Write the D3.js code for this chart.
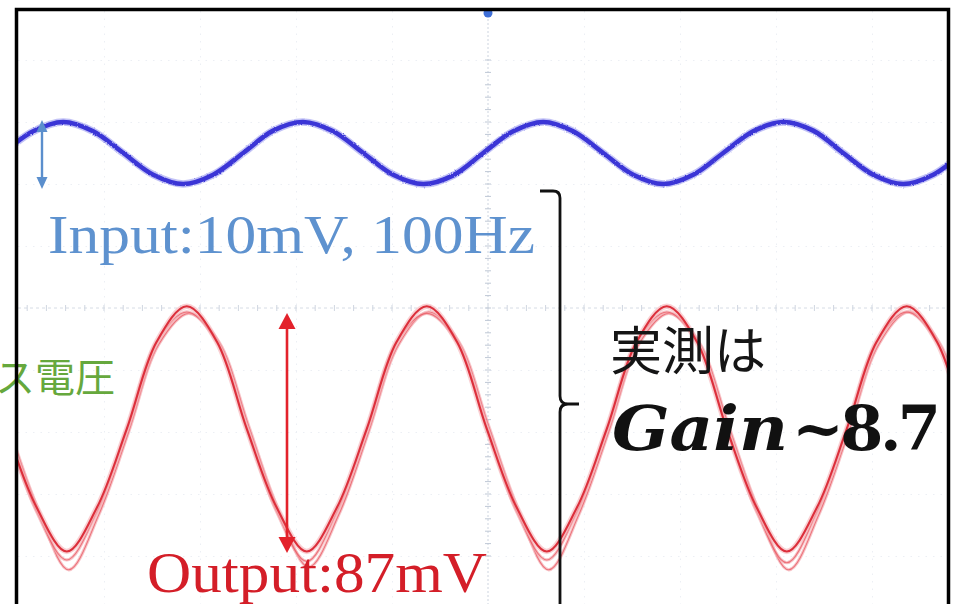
<!DOCTYPE html>
<html>
<head>
<meta charset="utf-8">
<script src="https://cdn.jsdelivr.net/npm/d3@7"></script>
<style>
  html, body { margin: 0; padding: 0; background: #fff; }
  svg { display: block; }
</style>
</head>
<body>
<svg id="scope" width="956" height="604"></svg>
<script>
// ---- captured waveforms (time in ms, voltage in mV) ----
const inTime = [-20.2,-18.95,-17.7,-16.45,-15.2,-13.95,-12.7,-11.45,-10.2,-8.95,-7.7,-6.45,-5.2,-3.95,-2.7,-1.45,
                -0.2,1.05,2.3,3.55,4.8,6.05,7.3,8.55,9.8,11.05,12.3,13.55,14.8,16.05,17.3,18.55,19.8,21.05];
const inVolt = [0,3.5,5,3.5,0,-3.5,-5,-3.5, 0,3.6,5,3.5,0,-3.5,-5,-3.6,
                0,3.5,5,3.5,0,-3.5,-5,-3.5, 0,3.5,5,3.6,0,-3.5,-5,-3.5, 0,3.5];

const outTime = [-20.05,-18.8,-17.55,-16.3,-15.05,-13.8,-12.55,-11.3,-10.05,-8.8,-7.55,-6.3,-5.05,-3.8,-2.55,-1.3,
                 -0.05,1.2,2.45,3.7,4.95,6.2,7.45,8.7,9.95,11.2,12.45,13.7,14.95,16.2,17.45,18.7,19.95,21.2];
const outVolt = [0,-28,-43.5,-28,0,31,43.5,31, 0,-28,-43.5,-28,0,31,43.5,31,
                 0,-28,-43.5,-28,0,31,43.5,31, 0,-28,-43.5,-28,0,31,43.5,31, 0,-28];
// persistence traces left on screen by earlier sweeps
const outVoltB = [0,-29.5,-46.5,-29.5,0,31,41.5,31, 0,-29.5,-47,-29.5,0,31,41,31,
                  0,-29.5,-46.5,-29.5,0,31,41.5,31, 0,-29.5,-47.5,-29.5,0,31,41.5,31, 0,-29.5];
const outVoltC = [1,-29,-50,-30.5,-1,30,41,31, 1,-29,-49,-30.5,-1,30,41.5,31,
                  1,-29,-50,-30.5,-1,30,41,31, 1,-29,-50,-30.5,-1,30,41.5,31, 1,-29];

// channel settings: [CH1 input, CH2 output]
const chNames    = ["CH1", "CH2"];
const chMvPerDiv = [10, 22];
const chPosDiv   = [2.5, -1.95];

// screen: 10 horizontal divisions of 4 ms, 8 vertical divisions
const timeDiv = 4;
const hDivs = [-4,-3,-2,-1,1,2,3,4];
const vDivs = [-4,-3,-2,-1,1,2,3,4];

const labelInput   = "Input:10mV, 100Hz";
const labelOutput  = "Output:87mV";
const labelMeas    = "実測は";
const labelGainVar = "Gain";
const labelGainVal = "~8.7";
const labelSide    = "ス電圧";

// ---- layout ----
const svg = d3.select("#scope");
const screen = { x0: 18, x1: 947, y0: 11, y1: 604 };

const x = d3.scaleLinear().domain([-5 * timeDiv, 5 * timeDiv]).range([8, 968]);
const divY = d3.scaleLinear().domain([-4, 4]).range([556, 60]);
const chY = chMvPerDiv.map((mv, i) =>
  d3.scaleLinear()
    .domain([(-4 - chPosDiv[i]) * mv, (4 - chPosDiv[i]) * mv])
    .range(divY.range()));

const defs = svg.append("defs");
defs.append("clipPath").attr("id", "screenClip")
  .append("rect")
  .attr("x", screen.x0).attr("y", screen.y0)
  .attr("width", screen.x1 - screen.x0).attr("height", screen.y1 - screen.y0);

// slight trace noise
const noise = defs.append("filter").attr("id", "traceNoise")
  .attr("x", "-2%").attr("y", "-10%").attr("width", "104%").attr("height", "120%");
noise.append("feTurbulence").attr("type", "fractalNoise")
  .attr("baseFrequency", "0.9").attr("numOctaves", 1).attr("seed", 3).attr("result", "n");
noise.append("feDisplacementMap").attr("in", "SourceGraphic").attr("in2", "n")
  .attr("scale", 2.4).attr("xChannelSelector", "R").attr("yChannelSelector", "G");

const scr = svg.append("g").attr("clip-path", "url(#screenClip)");

// ---- graticule ----
const gridX = scr.append("g")
  .attr("transform", `translate(0,${screen.y0})`)
  .call(d3.axisBottom(x).tickValues(hDivs.map(d => d * timeDiv))
        .tickSize(screen.y1 - screen.y0).tickFormat(""));
gridX.select(".domain").remove();
gridX.selectAll("line").attr("stroke", "#eceff4").attr("stroke-dasharray", "1.5,6");

const gridY = scr.append("g")
  .attr("transform", `translate(${screen.x0},0)`)
  .call(d3.axisRight(divY).tickValues(vDivs)
        .tickSize(screen.x1 - screen.x0).tickFormat(""));
gridY.select(".domain").remove();
gridY.selectAll("line").attr("stroke", "#eceff4").attr("stroke-dasharray", "1.5,6");

// centre cross with minor ticks
scr.append("line")
  .attr("x1", x(0)).attr("x2", x(0)).attr("y1", screen.y0).attr("y2", screen.y1)
  .attr("stroke", "#cdd4df").attr("stroke-width", 1).attr("stroke-dasharray", "2,2");
scr.append("line")
  .attr("x1", screen.x0).attr("x2", screen.x1).attr("y1", divY(0)).attr("y2", divY(0))
  .attr("stroke", "#d6dce5").attr("stroke-width", 1).attr("stroke-dasharray", "3,3");

const minorV = d3.range(-4, 4.01, 0.2);
scr.append("g").selectAll("line").data(minorV).join("line")
  .attr("x1", x(0) - 3).attr("x2", x(0) + 3)
  .attr("y1", d => divY(d)).attr("y2", d => divY(d))
  .attr("stroke", "#bfc8d5").attr("stroke-width", 1);
const minorH = d3.range(-20, 20.01, 0.8);
scr.append("g").selectAll("line").data(minorH).join("line")
  .attr("x1", d => x(d)).attr("x2", d => x(d))
  .attr("y1", divY(0) - 3).attr("y2", divY(0) + 3)
  .attr("stroke", "#cfd6e0").attr("stroke-width", 1);

// ---- waveforms ----
const line = (ys) => d3.line()
  .x(d => x(d[0]))
  .y(d => ys(d[1]))
  .curve(d3.curveCatmullRom.alpha(0.5));

const inData = d3.zip(inTime, inVolt);
const outData = d3.zip(outTime, outVolt);
const outDataB = d3.zip(outTime, outVoltB);
const outDataC = d3.zip(outTime.map(t => t + 0.08), outVoltC);

const traces = scr.append("g");

// CH2 output (persistence traces first)
[outDataC, outDataB].forEach(dat => {
  traces.append("path").datum(dat).attr("d", line(chY[1]))
    .attr("fill", "none").attr("stroke", "#f3a5ab").attr("stroke-width", 3.2)
    .attr("stroke-opacity", 0.65);
  traces.append("path").datum(dat).attr("d", line(chY[1]))
    .attr("fill", "none").attr("stroke", "#e8505a").attr("stroke-width", 1.1)
    .attr("stroke-opacity", 0.7);
});
traces.append("path").datum(outData).attr("d", line(chY[1]))
  .attr("fill", "none").attr("stroke", "#f5b3b8").attr("stroke-width", 5.5)
  .attr("stroke-opacity", 0.6);
traces.append("path").datum(outData).attr("d", line(chY[1]))
  .attr("fill", "none").attr("stroke", "#dc2f3b").attr("stroke-width", 2.1);

// CH1 input
traces.append("path").datum(inData).attr("d", line(chY[0]))
  .attr("fill", "none").attr("stroke", "#8585ee").attr("stroke-width", 7.5)
  .attr("stroke-opacity", 0.5).attr("filter", "url(#traceNoise)");
traces.append("path").datum(inData).attr("d", line(chY[0]))
  .attr("fill", "none").attr("stroke", "#3a35d6").attr("stroke-width", 4.6)
  .attr("filter", "url(#traceNoise)");

// trigger position marker
svg.append("circle").attr("cx", x(0)).attr("cy", screen.y0 + 2).attr("r", 4.5)
  .attr("fill", "#3e6fd8");

// ---- annotations ----
function doubleArrow(g, xPos, yTop, yBot, color, headW, headL, width) {
  g.append("line").attr("x1", xPos).attr("x2", xPos)
    .attr("y1", yTop + headL - 1).attr("y2", yBot - headL + 1)
    .attr("stroke", color).attr("stroke-width", width);
  g.append("path")
    .attr("d", `M${xPos},${yTop} L${xPos - headW / 2},${yTop + headL} L${xPos + headW / 2},${yTop + headL} Z`)
    .attr("fill", color);
  g.append("path")
    .attr("d", `M${xPos},${yBot} L${xPos - headW / 2},${yBot - headL} L${xPos + headW / 2},${yBot - headL} Z`)
    .attr("fill", color);
}
const ann = svg.append("g");
doubleArrow(ann, 42, 120, 189, "#5b8fcd", 11, 12, 2.4);
doubleArrow(ann, 287, 313, 553, "#e3222b", 17, 16, 2.6);

// brace between the two traces
ann.append("path")
  .attr("d", "M540,191 L553,191 Q560,191 560,198 L560,396 Q560,404 568,404 L579,404 M568,404 Q560,404 560,412 L560,610")
  .attr("fill", "none").attr("stroke", "#111").attr("stroke-width", 2.8);

// labels
const serif = "'Liberation Serif', 'Times New Roman', serif";
const cjk = "'Noto Sans CJK JP', 'Noto Sans', sans-serif";

ann.append("text")
  .attr("x", 48).attr("y", 253)
  .attr("font-family", serif).attr("font-size", 55)
  .attr("fill", "#5e92cf")
  .attr("textLength", 487).attr("lengthAdjust", "spacingAndGlyphs")
  .text(labelInput);

ann.append("text")
  .attr("x", 147).attr("y", 592)
  .attr("font-family", serif).attr("font-size", 56)
  .attr("fill", "#d41e28")
  .attr("textLength", 340).attr("lengthAdjust", "spacingAndGlyphs")
  .text(labelOutput);

ann.append("text")
  .attr("x", 610).attr("y", 370)
  .attr("font-family", cjk).attr("font-size", 52)
  .attr("fill", "#151515")
  .text(labelMeas);

// measured gain: italic variable name, upright value
const gainFont = "'DejaVu Serif', serif";
ann.append("text")
  .attr("x", 612).attr("y", 450)
  .attr("font-family", gainFont).attr("font-size", 62)
  .attr("font-weight", "bold").attr("font-style", "italic").attr("fill", "#111")
  .attr("textLength", 176).attr("lengthAdjust", "spacingAndGlyphs")
  .text(labelGainVar);
ann.append("text")
  .attr("x", 792).attr("y", 450)
  .attr("font-family", gainFont).attr("font-size", 62)
  .attr("font-weight", "bold").attr("fill", "#111")
  .attr("textLength", 149).attr("lengthAdjust", "spacing")
  .text(labelGainVal);

ann.append("text")
  .attr("x", 115).attr("y", 392)
  .attr("text-anchor", "end")
  .attr("font-family", cjk).attr("font-size", 40)
  .attr("fill", "#66a83d")
  .text(labelSide);

// frame (open at the bottom edge of the view)
svg.append("path")
  .attr("d", `M16.5,${screen.y1 + 10} L16.5,9.5 L948.5,9.5 L948.5,${screen.y1 + 10}`)
  .attr("fill", "none").attr("stroke", "#000").attr("stroke-width", 3.5);
</script>
</body>
</html>
